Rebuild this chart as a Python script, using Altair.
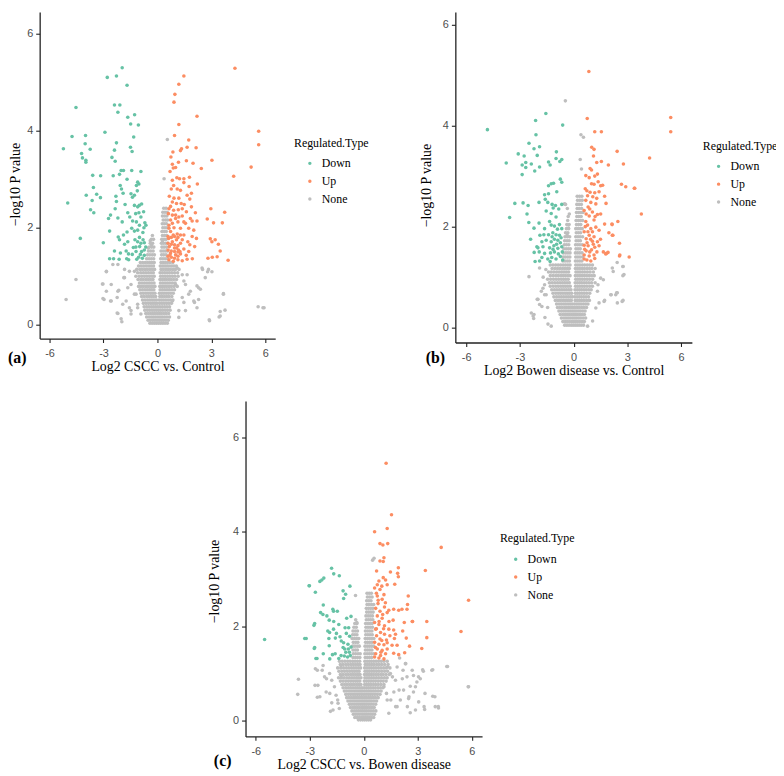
import altair as alt
import pandas as pd

TYPES = ["Down", "Up", "None"]
COLORS = ["#66C2A5", "#FC8D62", "#BEBEBE"]
X_TICKS = [-6, -3, 0, 3, 6]
Y_TICKS = [0, 2, 4, 6]
X_TITLES = ["Log2 CSCC vs. Control", "Log2 Bowen disease vs. Control", "Log2 CSCC vs. Bowen disease"]
Y_TITLE = "\u2212log10 P value"
TAGS = ["(a)", "(b)", "(c)"]
LEGEND_TITLE = "Regulated.Type"

# ---------------- panel (a): CSCC vs Control ----------------
a_down = [(-1.96,5.30),(-2.79,5.10),(-2.28,5.13),(-1.69,4.94),(-4.53,4.48),(-2.39,4.53),(-2.09,4.53),(-2.20,4.38),
          (-1.65,4.28),(-1.27,4.33),(-1.49,4.14),(-1.06,4.12),(-2.92,3.97),(-1.32,3.87),(-4.75,3.88),(-4.00,3.90),
          (-2.28,3.75),(-4.02,3.73),(-3.74,3.62),(-5.23,3.63),(-4.22,3.53),(-4.17,3.44),(-3.98,3.39),(-3.98,3.35),
          (-2.39,3.60),(-2.53,3.45),(-2.35,3.37),(-1.50,3.66),(-1.41,3.57),(-2.02,3.18),(-1.89,3.18),(-1.43,3.18),
          (-0.92,3.16),(-3.60,3.08),(-3.16,3.07),(-2.46,3.07),(-2.11,3.10),(-1.69,3.00),(-1.10,2.94),(-1.03,2.90),
          (-1.17,2.87),(-2.07,2.87),(-2.00,2.80),(-3.56,2.83),(-1.91,2.71),(-3.38,2.69),(-3.96,2.67),(-3.17,2.62),
          (-3.63,2.56),(-2.31,2.65),(-1.47,2.70),(-1.39,2.63),(-1.12,2.76),(-1.28,2.67),(-4.99,2.51),(-2.28,2.54),
          (-1.80,2.48),(-1.28,2.46),(-1.01,2.46),(-0.88,2.49),(-1.10,2.43),(-3.72,2.37),(-3.54,2.31),(-2.35,2.39),
          (-1.65,2.31),(-2.20,2.20),(-1.96,2.12),(-2.61,2.26),(-2.72,2.19),(-1.54,2.22),(-1.21,2.29),(-1.03,2.31),
          (-0.77,2.33),(-0.92,2.22),(-1.38,2.14),(-1.17,2.12),(-0.70,2.10),(-0.64,2.05),(-1.43,1.99),(-1.28,1.93),
          (-1.10,1.95),(-0.81,1.90),(-2.66,1.93),(-1.69,1.91),(-2.18,1.81),(-1.89,1.85),(-4.29,1.78),(-3.01,1.69),
          (-2.11,1.75),(-1.83,1.66),(-1.65,1.71),(-1.10,1.71),(-0.92,1.68),(-0.73,1.69),(-0.99,1.61),(-1.34,1.59),
          (-1.19,1.51),(-0.88,1.51),(-0.73,1.54),(-2.39,1.52),(-2.06,1.48),(-1.74,1.52),(-1.61,1.46),(-2.66,1.36),
          (-2.44,1.36),(-2.13,1.35),(-1.71,1.36),(-1.60,1.34),(-1.05,1.39),(-0.84,1.37),(-0.73,1.43),(-1.00,1.80),
          (-0.80,1.75),(-1.25,1.75),(-0.95,1.45),(-1.15,1.35),(-0.65,1.60),(-1.40,1.45),(-0.75,2.00),(-1.00,2.05),
          (-1.20,1.60)]
a_up = [(4.31,5.29),(1.47,5.13),(1.19,4.96),(0.97,4.75),(0.92,4.59),(2.20,4.30),(1.19,4.13),(5.63,3.99),(5.63,3.71),
        (0.95,3.90),(1.74,3.81),(1.34,3.63),(1.28,3.59),(1.65,3.66),(2.15,3.65),(0.86,3.56),(0.75,3.46),(1.17,3.35),
        (1.61,3.38),(1.98,3.33),(3.03,3.39),(2.44,3.22),(5.21,3.25),(4.24,3.06),(0.83,3.31),(0.88,3.23),(1.01,3.24),
        (0.70,3.16),(1.08,3.03),(1.23,3.01),(1.47,3.01),(1.78,3.04),(0.83,2.98),(0.90,2.87),(1.47,2.93),(2.22,2.90),
        (1.76,2.85),(0.77,2.80),(1.10,2.80),(1.28,2.77),(1.89,2.71),(1.65,2.67),(0.66,2.65),(0.92,2.61),(1.19,2.61),
        (1.80,2.59),(0.83,2.53),(1.06,2.50),(1.32,2.50),(1.49,2.48),(0.73,2.44),(1.89,2.43),(2.11,2.31),(2.97,2.39),
        (3.74,2.32),(0.90,2.36),(1.16,2.37),(1.61,2.33),(0.61,2.29),(1.01,2.26),(1.38,2.24),(1.83,2.19),(1.93,2.14),
        (2.20,2.14),(2.77,2.18),(3.12,2.10),(3.61,2.10),(0.73,2.16),(1.14,2.12),(1.56,2.09),(0.64,2.05),(0.92,2.00),
        (1.28,1.99),(1.74,1.99),(2.02,1.95),(0.73,1.92),(1.10,1.87),(1.47,1.85),(1.93,1.82),(2.17,1.78),(2.94,1.77),
        (3.21,1.75),(0.62,1.78),(0.83,1.71),(1.06,1.75),(1.28,1.68),(1.69,1.71),(1.80,1.65),(3.39,1.66),(3.03,1.71),
        (2.07,1.61),(0.66,1.61),(0.95,1.58),(1.17,1.54),(1.47,1.56),(3.49,1.52),(1.74,1.51),(0.73,1.48),(1.01,1.44),
        (1.28,1.46),(1.60,1.43),(1.94,1.36),(2.81,1.37),(3.05,1.39),(3.32,1.40),(3.93,1.33),(0.64,1.34),(0.88,1.31),
        (1.14,1.34),(1.38,1.32),(1.65,1.35),(0.59,1.82),(0.77,1.80),(0.95,1.82),(1.14,1.80),(0.59,1.68),(0.77,1.66),
        (0.95,1.65),(1.14,1.63),(0.59,1.54),(0.77,1.52),(0.95,1.51),(1.14,1.50),(0.59,1.41),(0.77,1.39),(0.95,1.37),
        (1.14,1.41),(1.25,1.51),(0.70,1.44),(1.06,1.58),(0.88,1.85),(0.64,1.99),(0.83,2.09),(1.01,2.19),(0.83,2.26),
        (1.19,2.22),(0.64,2.39),(1.38,2.39),(1.47,2.12),(1.28,1.85),(1.38,1.75)]
a_none = [(0.55,3.82),(0.37,3.01),(-0.40,1.73),(-0.33,1.65),(0.28,1.73),(-0.51,1.58),(-4.53,0.93),(-5.08,0.52),
          (-3.03,0.84),(-2.84,1.10),(-2.48,1.24),(-2.24,0.24),(-1.98,0.06),(-2.97,0.52),(-2.57,0.49),(-2.84,0.69),
          (-2.20,0.69),(-1.83,0.97),(-1.56,1.10),(-1.47,0.83),(-1.28,0.63),(-1.10,0.42),(-0.92,0.22),(-1.74,0.49),
          (-1.47,0.29),(2.48,1.17),(2.29,0.76),(2.02,0.49),(2.20,0.35),(2.66,0.97),(2.90,0.08),(3.49,0.18),(3.67,0.63),
          (3.76,0.30),(2.84,1.14),(5.60,0.37),(5.87,0.35),(1.56,0.83),(1.74,0.63),(1.47,0.46),(1.19,0.29),(1.10,1.17),
          (1.38,1.03),(1.01,0.83),(0.83,0.49),(-2.84,1.09),(-3.06,0.84),(-3.03,0.54),(-2.61,0.49),(-2.24,0.56),
          (-2.20,0.23),(-2.02,0.12),(-2.15,0.71),(-1.87,0.97),(-1.83,1.14),(-1.65,0.76),(-1.56,0.35),(-1.47,0.22),
          (-1.28,1.10),(-1.19,0.63),(-1.10,0.35),(-1.93,0.42),(-2.20,1.24),(-2.57,0.83),(2.51,1.14),(3.03,1.09),
          (2.79,1.09),(2.20,0.80),(2.39,0.73),(2.29,0.52),(1.83,0.69),(2.06,0.46),(3.67,0.64),(3.49,0.27),(3.43,0.16),
          (2.88,0.10),(5.93,0.35),(1.47,0.90),(1.65,1.03),(1.38,0.56),(1.56,0.29),(1.19,0.15)]
a_none_rows = [
    (2.40, [0.35, 0.48]), (2.32, [0.30, 0.42, 0.54]), (2.24, [0.28, 0.40, 0.52]), (2.16, [0.32, 0.45, 0.56]),
    (2.08, [0.27, 0.38, 0.50]), (2.00, [0.30, 0.42, 0.54]), (1.92, [0.25, 0.37, 0.49]),
    (1.84, [-0.28, 0.28, 0.40, 0.52]), (1.76, [-0.34, -0.22, 0.24, 0.36, 0.48]),
    (1.68, [-0.40, -0.27, 0.22, 0.33, 0.45, 0.56]), (1.60, [-0.45, -0.32, -0.20, 0.25, 0.37, 0.50]),
    (1.52, [-0.50, -0.37, -0.24, 0.20, 0.32, 0.44, 0.56]), (1.44, [-0.55, -0.42, -0.29, -0.17, 0.23, 0.35, 0.48]),
    (1.36, [-0.60, -0.47, -0.34, -0.21, 0.18, 0.30, 0.42, 0.54]),
    (1.28, [-0.95, -0.82, -0.68, -0.55, -0.42, -0.30, -0.18, 0.20, 0.32, 0.44, 0.56, 0.70, 0.85]),
    (1.21, [-1.05, -0.90, -0.76, -0.62, -0.48, -0.35, -0.22, 0.16, 0.28, 0.40, 0.52, 0.64, 0.78, 0.92, 1.05]),
    (1.14, [-1.15, -0.98, -0.84, -0.70, -0.56, -0.42, -0.28, -0.16, 0.20, 0.33, 0.46, 0.59, 0.72, 0.86, 1.00, 1.20]),
    (1.07, [-1.10, -0.93, -0.78, -0.64, -0.50, -0.36, -0.23, 0.15, 0.27, 0.40, 0.53, 0.66, 0.80, 0.95, 1.12]),
    (1.00, [-1.20, -1.02, -0.87, -0.72, -0.58, -0.44, -0.30, -0.18, 0.18, 0.31, 0.44, 0.57, 0.70, 0.84, 0.98, 1.15]),
    (0.93, [-1.08, -0.93, -0.79, -0.65, -0.51, -0.38, -0.25, 0.14, 0.26, 0.38, 0.50, 0.63, 0.76, 0.90, 1.06]),
    (0.86, [-1.00, -0.86, -0.72, -0.58, -0.45, -0.32, -0.19, 0.17, 0.30, 0.43, 0.56, 0.69, 0.83, 0.98]),
    (0.79, [-1.05, -0.92, -0.78, -0.64, -0.51, -0.38, -0.26, -0.14, 0.13, 0.25, 0.37, 0.50, 0.63, 0.77, 0.92, 1.10]),
    (0.72, [-0.98, -0.84, -0.70, -0.57, -0.44, -0.32, -0.20, 0.15, 0.28, 0.41, 0.54, 0.67, 0.81, 0.95]),
    (0.65, [-0.92, -0.78, -0.64, -0.51, -0.38, -0.26, -0.14, 0.11, 0.23, 0.35, 0.48, 0.61, 0.74, 0.88]),
    (0.58, [-0.88, -0.74, -0.60, -0.47, -0.34, -0.22, -0.10, 0.13, 0.26, 0.39, 0.52, 0.65, 0.80]),
    (0.51, [-0.83, -0.69, -0.55, -0.42, -0.30, -0.18, -0.06, 0.09, 0.21, 0.33, 0.46, 0.59, 0.72, 0.86]),
    (0.44, [-0.78, -0.64, -0.50, -0.37, -0.25, -0.13, -0.02, 0.12, 0.25, 0.38, 0.51, 0.64, 0.78]),
    (0.37, [-0.74, -0.60, -0.47, -0.34, -0.22, -0.10, 0.02, 0.14, 0.27, 0.40, 0.53, 0.67]),
    (0.30, [-0.70, -0.56, -0.43, -0.30, -0.18, -0.06, 0.06, 0.18, 0.30, 0.43, 0.56, 0.70]),
    (0.23, [-0.65, -0.51, -0.38, -0.26, -0.14, -0.02, 0.10, 0.22, 0.35, 0.48, 0.62]),
    (0.16, [-0.60, -0.46, -0.33, -0.21, -0.09, 0.03, 0.15, 0.27, 0.40, 0.53, 0.67]),
    (0.09, [-0.52, -0.39, -0.26, -0.14, -0.02, 0.10, 0.22, 0.34, 0.47, 0.60]),
    (0.03, [-0.42, -0.30, -0.18, -0.06, 0.06, 0.18, 0.30, 0.42, 0.55]),
]

# ---------------- panel (b): Bowen disease vs Control ----------------
b_down = [(-4.81,3.92),(-1.55,4.24),(-2.12,4.10),(-0.61,4.01),(-2.10,3.82),(-2.49,3.65),(-1.90,3.58),(-2.21,3.54),
          (-3.09,3.44),(-2.76,3.40),(-2.03,3.41),(-0.96,3.48),(-3.76,3.26),(-2.87,3.22),(-2.67,3.27),(-2.67,3.17),
          (-2.36,3.24),(-2.17,3.10),(-1.90,3.18),(-1.40,3.28),(-1.31,3.22),(-0.98,3.35),(-0.77,3.29),(-0.66,3.33),
          (-2.87,3.03),(-1.40,2.81),(-1.25,2.85),(-1.12,2.86),(-0.74,2.94),(-0.66,2.88),(-1.62,2.63),(-1.40,2.65),
          (-0.94,2.69),(-1.58,2.54),(-1.44,2.48),(-1.20,2.44),(-3.28,2.46),(-2.82,2.47),(-2.54,2.42),(-1.93,2.48),
          (-1.01,2.42),(-0.66,2.44),(-3.57,2.18),(-2.60,2.25),(-1.14,2.37),(-0.83,2.35),(-1.53,2.31),(-1.25,2.26),
          (-0.98,2.19),(-2.50,2.08),(-2.21,1.97),(-1.93,2.07),(-1.62,1.96),(-1.34,2.10),(-1.25,2.03),(-1.07,2.01),
          (-0.79,2.04),(-0.66,1.96),(-1.88,1.83),(-1.66,1.84),(-1.40,1.84),(-1.16,1.88),(-0.98,1.84),(-0.79,1.83),
          (-1.77,1.70),(-1.53,1.73),(-1.25,1.70),(-1.07,1.75),(-0.88,1.73),(-0.74,1.68),(-1.99,1.58),(-1.71,1.60),
          (-1.34,1.58),(-1.10,1.62),(-0.88,1.57),(-0.66,1.60),(-1.92,1.50),(-1.62,1.47),(-1.29,1.48),(-1.07,1.50),
          (-0.85,1.46),(-0.63,1.50),(-2.15,1.31),(-1.77,1.39),(-1.44,1.36),(-1.22,1.39),(-0.98,1.36),(-0.74,1.41),
          (-1.31,1.31),(-0.61,1.34),(-2.20,1.49),(-2.05,1.60),(-1.90,1.32),(-2.40,1.75),(-0.90,1.95),(-1.15,1.55),
          (-0.95,1.65),(-1.20,1.80),(-0.70,1.78)]
b_up = [(0.85,5.07),(0.76,4.14),(5.42,4.16),(5.42,3.88),(1.18,3.88),(1.55,3.88),(1.01,3.57),(1.14,3.53),(2.43,3.49),
        (4.24,3.36),(1.11,3.40),(1.29,3.27),(1.55,3.29),(1.94,3.22),(2.78,3.24),(0.92,3.15),(1.00,3.12),(0.68,3.01),
        (0.87,2.97),(1.18,3.00),(1.33,3.04),(1.37,2.89),(1.14,2.84),(1.51,2.81),(1.62,2.82),(2.67,2.84),(2.91,2.79),
        (3.39,2.76),(0.74,2.71),(0.92,2.68),(1.18,2.67),(1.42,2.69),(0.78,2.61),(1.07,2.59),(1.29,2.56),(1.73,2.60),
        (0.68,2.52),(0.96,2.48),(1.24,2.45),(1.81,2.46),(0.81,2.39),(0.59,2.32),(1.05,2.29),(1.33,2.24),(1.51,2.25),
        (3.78,2.25),(0.87,2.21),(0.68,2.10),(1.14,2.13),(1.73,2.05),(2.14,2.05),(2.47,2.10),(0.78,2.03),(0.96,1.96),
        (1.24,1.99),(1.42,1.93),(1.97,1.88),(2.16,1.83),(0.59,1.90),(0.87,1.83),(1.14,1.80),(0.70,1.76),(1.05,1.71),
        (1.33,1.70),(2.56,1.67),(0.59,1.63),(0.81,1.62),(1.18,1.59),(1.42,1.62),(0.70,1.52),(1.00,1.54),(1.66,1.50),
        (1.83,1.47),(1.92,1.49),(0.59,1.44),(0.87,1.42),(1.14,1.44),(2.56,1.42),(3.10,1.40),(0.74,1.34),(0.96,1.32),
        (0.59,1.36),(1.18,1.37),(0.65,2.00),(0.80,1.90),(0.95,1.75),(0.62,1.55),(0.90,1.50),(1.10,1.65),(0.75,1.68),
        (1.05,1.90),(0.70,2.25),(0.90,2.35),(1.20,2.20),(0.65,2.75),(1.00,2.85),(3.41,2.76),(2.58,1.44),(2.15,2.04),
        (2.19,1.83),(1.79,1.46),(1.30,1.50),(1.50,1.75)]
b_none = [(-0.46,4.49),(0.41,3.82),(0.55,3.77),(0.37,3.33),(0.44,3.14),(-0.51,2.45),(-0.24,2.25),(-0.29,1.97),
          (-0.36,1.83),(-2.49,1.01),(-1.90,1.18),(-1.80,0.72),(-2.36,0.29),(-2.26,0.23),(-1.43,0.07),(-1.25,0.03),
          (-1.99,0.56),(-1.62,0.65),(-1.71,0.78),(-1.90,0.46),(2.16,1.18),(2.75,1.21),(2.81,1.05),(2.71,0.52),
          (2.44,0.69),(2.07,0.65),(1.70,0.52),(1.33,0.72),(1.51,0.98),(1.06,0.13),(0.78,0.03),(2.44,0.49),(2.35,0.65),
          (-2.21,0.26),(-2.23,0.18),(-2.03,0.56),(-1.77,0.42),(-1.62,0.85),(-1.53,0.65),(2.43,1.29),(2.76,1.21),
          (2.21,1.11),(2.75,1.03),(2.10,0.65),(2.40,0.69),(1.73,0.54),(2.76,0.54),(1.36,0.85),(1.42,0.49),(1.24,0.39),
          (1.66,0.95),(-1.55,1.15),(-1.70,1.00),(-1.45,0.40),(-1.60,0.20)]
b_none_rows = [
    (2.60, [0.20, 0.33, 0.46]), (2.52, [0.22, 0.35, 0.48]), (2.44, [-0.45, 0.18, 0.30, 0.43]),
    (2.36, [-0.35, 0.20, 0.32, 0.45]), (2.28, [0.16, 0.28, 0.40, 0.52]), (2.20, [-0.30, 0.18, 0.30, 0.42]),
    (2.12, [-0.33, 0.14, 0.26, 0.38, 0.50]), (2.04, [-0.38, -0.25, 0.16, 0.28, 0.40]),
    (1.96, [-0.40, -0.28, 0.12, 0.24, 0.36, 0.48]), (1.88, [-0.45, -0.32, 0.15, 0.27, 0.39]),
    (1.80, [-0.48, -0.35, -0.22, 0.12, 0.24, 0.36, 0.50]), (1.72, [-0.50, -0.37, -0.25, 0.14, 0.26, 0.38]),
    (1.64, [-0.52, -0.40, -0.27, 0.11, 0.23, 0.35, 0.48]), (1.56, [-0.55, -0.42, -0.30, -0.18, 0.13, 0.25, 0.37]),
    (1.48, [-0.57, -0.44, -0.32, -0.20, 0.10, 0.22, 0.34, 0.47]),
    (1.40, [-0.58, -0.46, -0.33, -0.21, 0.12, 0.24, 0.36, 0.50]),
    (1.32, [-0.60, -0.48, -0.35, -0.23, 0.10, 0.22, 0.34, 0.46]),
    (1.24, [-1.30, -1.15, -1.00, -0.86, -0.72, -0.58, -0.45, -0.32, -0.20, 0.12, 0.24, 0.36, 0.49, 0.62, 0.76, 0.90, 1.05]),
    (1.17, [-1.20, -1.05, -0.90, -0.76, -0.62, -0.49, -0.36, -0.24, 0.10, 0.22, 0.34, 0.47, 0.60, 0.74, 0.88, 1.02, 1.20]),
    (1.10, [-1.40, -1.25, -1.10, -0.95, -0.81, -0.67, -0.54, -0.41, -0.28, 0.13, 0.25, 0.37, 0.50, 0.63, 0.77, 0.92, 1.10]),
    (1.03, [-1.30, -1.15, -1.00, -0.86, -0.72, -0.59, -0.46, -0.33, -0.20, 0.10, 0.22, 0.34, 0.46, 0.59, 0.72, 0.86, 1.00, 1.15]),
    (0.96, [-1.45, -1.28, -1.12, -0.97, -0.83, -0.69, -0.56, -0.43, -0.30, 0.12, 0.24, 0.36, 0.49, 0.62, 0.76, 0.90, 1.06]),
    (0.89, [-1.35, -1.20, -1.05, -0.90, -0.76, -0.63, -0.50, -0.37, -0.24, 0.09, 0.21, 0.33, 0.45, 0.58, 0.71, 0.85, 1.00, 1.20]),
    (0.82, [-1.30, -1.14, -0.99, -0.85, -0.71, -0.58, -0.45, -0.32, -0.19, 0.11, 0.23, 0.35, 0.48, 0.61, 0.75, 0.90, 1.05]),
    (0.75, [-1.22, -1.07, -0.93, -0.79, -0.66, -0.53, -0.40, -0.27, -0.15, 0.08, 0.20, 0.32, 0.44, 0.57, 0.70, 0.84, 0.98]),
    (0.68, [-1.15, -1.00, -0.86, -0.73, -0.60, -0.47, -0.35, -0.23, -0.11, 0.10, 0.22, 0.34, 0.47, 0.60, 0.74, 0.90]),
    (0.61, [-1.10, -0.95, -0.81, -0.68, -0.55, -0.42, -0.30, -0.18, -0.07, 0.07, 0.19, 0.31, 0.43, 0.56, 0.69, 0.83]),
    (0.54, [-1.02, -0.88, -0.74, -0.61, -0.48, -0.36, -0.24, -0.13, 0.09, 0.21, 0.33, 0.46, 0.59, 0.73, 0.88]),
    (0.47, [-0.95, -0.81, -0.68, -0.55, -0.43, -0.31, -0.19, -0.08, 0.05, 0.17, 0.29, 0.41, 0.54, 0.67, 0.80]),
    (0.40, [-0.90, -0.76, -0.63, -0.50, -0.38, -0.26, -0.14, -0.03, 0.08, 0.20, 0.32, 0.45, 0.58, 0.72]),
    (0.33, [-0.82, -0.68, -0.55, -0.43, -0.31, -0.19, -0.08, 0.03, 0.14, 0.26, 0.38, 0.51, 0.64]),
    (0.26, [-0.75, -0.61, -0.48, -0.36, -0.24, -0.12, 0.00, 0.11, 0.22, 0.34, 0.46, 0.60]),
    (0.19, [-0.68, -0.54, -0.42, -0.30, -0.18, -0.06, 0.05, 0.16, 0.28, 0.40, 0.53, 0.67]),
    (0.12, [-0.60, -0.47, -0.35, -0.23, -0.11, 0.00, 0.11, 0.22, 0.34, 0.47, 0.60]),
    (0.05, [-0.50, -0.38, -0.26, -0.14, -0.03, 0.08, 0.19, 0.30, 0.42, 0.55]),
]

# ---------------- panel (c): CSCC vs Bowen disease ----------------
c_down = [(-1.79,3.23),(-1.67,3.11),(-1.36,3.07),(-2.44,2.95),(-2.33,2.98),(-2.22,3.02),(-3.04,2.86),(-0.77,2.85),
          (-2.69,2.72),(-1.15,2.75),(-1.01,2.68),(-1.12,2.59),(-2.25,2.45),(-1.72,2.36),(-1.68,2.32),(-1.47,2.32),
          (-2.40,2.29),(-2.27,2.25),(-2.05,2.22),(-1.92,2.13),(-1.67,2.10),(-1.39,2.04),(-2.73,2.06),(-2.77,2.02),
          (-0.95,2.17),(-0.71,2.21),(-2.00,1.90),(-1.90,1.87),(-1.68,1.94),(-1.52,1.85),(-1.04,1.97),(-0.84,1.97),
          (-0.97,1.85),(-5.51,1.72),(-3.28,1.74),(-3.20,1.74),(-1.94,1.74),(-1.58,1.75),(-1.32,1.78),(-1.25,1.69),
          (-0.79,1.79),(-1.12,1.65),(-0.88,1.62),(-1.92,1.59),(-2.73,1.55),(-1.06,1.52),(-0.86,1.52),(-0.71,1.56),
          (-2.25,1.42),(-1.74,1.40),(-1.59,1.42),(-1.26,1.38),(-1.08,1.37),(-0.90,1.35),(-2.60,1.32),(-1.89,1.31),
          (-1.39,1.32),(-0.75,1.38),(-3.02,2.86),(-2.75,1.53),(-2.66,1.32),(-1.00,1.45),(-0.80,1.45),(-1.15,1.55)]
c_up = [(1.24,5.45),(1.54,4.36),(1.30,4.07),(0.60,4.00),(0.90,3.75),(1.06,3.72),(1.33,3.75),(4.30,3.67),(1.12,3.45),
        (1.08,3.37),(0.90,3.38),(1.92,3.24),(1.88,3.12),(1.92,3.05),(3.42,3.18),(0.71,3.17),(1.48,3.15),(1.08,3.03),
        (1.21,2.98),(0.84,2.96),(1.30,2.88),(1.72,2.89),(0.75,2.88),(0.60,2.81),(0.90,2.78),(1.12,2.67),(2.47,2.64),
        (0.75,2.64),(1.02,2.57),(5.82,2.55),(2.43,2.46),(2.40,2.36),(0.79,2.48),(1.39,2.34),(1.66,2.36),(1.94,2.34),
        (2.12,2.36),(0.66,2.38),(0.90,2.32),(1.15,2.41),(1.30,2.29),(0.75,2.22),(1.02,2.17),(1.63,2.13),(2.25,2.08),
        (2.71,2.10),(3.50,2.10),(0.60,2.08),(0.84,2.04),(1.15,2.01),(1.39,1.94),(1.66,1.92),(1.76,1.83),(2.16,1.90),
        (5.40,1.89),(0.66,1.94),(0.93,1.87),(1.15,1.83),(0.71,1.80),(2.36,1.75),(3.50,1.76),(0.90,1.73),(1.26,1.71),
        (1.70,1.74),(0.60,1.66),(0.84,1.62),(1.12,1.61),(1.57,1.60),(1.85,1.60),(2.54,1.58),(0.75,1.52),(1.02,1.49),
        (1.30,1.52),(3.22,1.53),(0.66,1.42),(0.93,1.38),(1.21,1.42),(1.66,1.43),(1.94,1.40),(2.27,1.44),(0.60,1.35),
        (0.84,1.33),(1.12,1.31),(0.70,1.95),(0.85,2.10),(1.00,1.70),(0.65,1.55),(0.95,1.45),(1.05,2.25),(0.80,2.55),
        (1.20,2.50),(1.30,1.65),(1.10,1.95),(0.70,2.70),(1.00,2.85),(2.69,2.10),(1.45,1.80),(1.40,2.10)]
c_none = [(0.49,3.40),(-0.46,2.65),(-0.39,2.08),(-3.63,0.88),(-3.67,0.56),(-2.58,1.07),(-2.71,0.75),(-2.26,1.17),
          (-2.07,0.89),(-2.44,0.51),(-1.89,0.58),(-1.71,0.23),(-1.43,0.37),(-1.25,0.96),(4.61,1.15),(3.78,1.07),
          (3.27,1.08),(3.14,0.89),(2.87,0.72),(2.69,1.07),(2.33,1.21),(2.14,0.89),(1.96,0.65),(2.51,0.51),(3.05,0.40),
          (3.38,0.24),(3.83,0.52),(3.97,0.30),(4.15,0.27),(5.80,0.72),(1.77,0.30),(2.42,0.30),(2.87,0.23),(1.50,0.44),
          (1.59,0.93),(1.31,1.14),(1.26,0.58),(-2.69,1.10),(-2.55,0.75),(-2.58,0.50),(-2.31,1.07),(-2.18,0.93),
          (-2.09,0.61),(-1.90,1.00),(-1.78,0.86),(-1.63,0.72),(-1.78,0.38),(-1.54,0.54),(-1.85,0.20),(-1.36,0.26),
          (-1.45,0.44),(-1.26,1.17),(0.57,3.44),(1.99,1.33),(2.31,1.21),(1.85,1.14),(2.18,1.07),(1.48,1.00),(1.76,0.86),
          (2.40,0.93),(2.76,0.96),(3.04,0.93),(3.31,1.05),(3.83,1.08),(4.65,1.15),(2.95,0.82),(2.58,0.73),(2.21,0.65),
          (1.67,0.61),(2.03,0.44),(2.49,0.47),(2.76,0.61),(3.40,0.58),(3.95,0.51),(3.35,0.30),(4.14,0.30),(2.58,0.17),
          (1.85,0.30),(1.39,0.16),(5.82,0.72),(1.12,0.72),(1.30,0.44)]
c_none_rows = [
    (2.70, [0.18, 0.30, 0.42]), (2.62, [0.20, 0.33, 0.46]), (2.54, [0.16, 0.28, 0.40]),
    (2.46, [0.18, 0.30, 0.43, 0.55]), (2.38, [0.14, 0.26, 0.38, 0.50]), (2.30, [0.16, 0.28, 0.40, 0.52]),
    (2.22, [0.12, 0.24, 0.36, 0.48]), (2.14, [-0.45, 0.14, 0.26, 0.38, 0.50]),
    (2.06, [-0.50, -0.38, 0.10, 0.22, 0.34, 0.46]), (1.98, [-0.55, -0.42, 0.12, 0.24, 0.36, 0.48]),
    (1.90, [-0.60, -0.47, -0.35, 0.09, 0.21, 0.33, 0.45]), (1.82, [-0.62, -0.50, -0.38, 0.11, 0.23, 0.35, 0.47]),
    (1.74, [-0.65, -0.52, -0.40, -0.28, 0.08, 0.20, 0.32, 0.44, 0.56]),
    (1.66, [-0.58, -0.45, -0.33, 0.10, 0.22, 0.34, 0.46]),
    (1.58, [-0.62, -0.50, -0.37, -0.25, 0.07, 0.19, 0.31, 0.43, 0.55]),
    (1.50, [-0.60, -0.47, -0.35, 0.09, 0.21, 0.33, 0.45]),
    (1.42, [-0.58, -0.45, -0.32, -0.20, 0.06, 0.18, 0.30, 0.42, 0.54]),
    (1.34, [-0.60, -0.47, -0.35, -0.22, 0.08, 0.20, 0.32, 0.44]),
    (1.26, [-1.35, -1.20, -1.05, -0.90, -0.76, -0.62, -0.49, -0.36, -0.23, 0.06, 0.18, 0.30, 0.42, 0.55, 0.68, 0.82, 0.97, 1.12, 1.30]),
    (1.19, [-1.30, -1.15, -1.00, -0.86, -0.72, -0.59, -0.46, -0.33, -0.21, 0.08, 0.20, 0.32, 0.45, 0.58, 0.72, 0.86, 1.00, 1.16, 1.35]),
    (1.12, [-1.45, -1.28, -1.12, -0.97, -0.83, -0.69, -0.56, -0.43, -0.30, -0.18, 0.05, 0.17, 0.29, 0.41, 0.54, 0.67, 0.81, 0.95, 1.10, 1.25, 1.45]),
    (1.05, [-1.38, -1.22, -1.07, -0.92, -0.78, -0.64, -0.51, -0.38, -0.26, 0.07, 0.19, 0.31, 0.44, 0.57, 0.71, 0.85, 1.00, 1.16, 1.32]),
    (0.98, [-1.30, -1.15, -1.00, -0.86, -0.72, -0.59, -0.46, -0.33, -0.21, 0.04, 0.16, 0.28, 0.40, 0.53, 0.66, 0.80, 0.94, 1.08, 1.24, 1.42]),
    (0.91, [-1.40, -1.24, -1.09, -0.94, -0.80, -0.66, -0.53, -0.40, -0.28, -0.16, 0.06, 0.18, 0.30, 0.43, 0.56, 0.70, 0.84, 0.99, 1.15, 1.30]),
    (0.84, [-1.30, -1.15, -1.00, -0.86, -0.72, -0.59, -0.46, -0.34, -0.22, 0.03, 0.15, 0.27, 0.39, 0.52, 0.65, 0.79, 0.93, 1.08, 1.24]),
    (0.77, [-1.22, -1.07, -0.93, -0.79, -0.66, -0.53, -0.40, -0.28, -0.16, 0.05, 0.17, 0.29, 0.41, 0.54, 0.67, 0.81, 0.96, 1.12]),
    (0.70, [-1.15, -1.00, -0.86, -0.73, -0.60, -0.47, -0.35, -0.23, -0.11, 0.02, 0.14, 0.26, 0.38, 0.51, 0.64, 0.78, 0.92, 1.06]),
    (0.63, [-1.08, -0.94, -0.80, -0.67, -0.54, -0.42, -0.30, -0.18, -0.07, 0.05, 0.17, 0.29, 0.41, 0.54, 0.67, 0.81, 0.96]),
    (0.56, [-1.00, -0.86, -0.73, -0.60, -0.48, -0.36, -0.24, -0.12, 0.00, 0.12, 0.24, 0.36, 0.48, 0.61, 0.75, 0.90]),
    (0.49, [-0.95, -0.81, -0.68, -0.55, -0.43, -0.31, -0.19, -0.08, 0.04, 0.15, 0.27, 0.39, 0.52, 0.65, 0.80]),
    (0.42, [-0.88, -0.74, -0.61, -0.49, -0.37, -0.25, -0.13, -0.02, 0.09, 0.20, 0.32, 0.44, 0.57, 0.71]),
    (0.35, [-0.80, -0.67, -0.54, -0.42, -0.30, -0.18, -0.07, 0.04, 0.15, 0.27, 0.39, 0.52, 0.66]),
    (0.28, [-0.74, -0.60, -0.48, -0.36, -0.24, -0.12, -0.01, 0.10, 0.21, 0.33, 0.45, 0.58]),
    (0.21, [-0.66, -0.53, -0.41, -0.29, -0.17, -0.06, 0.05, 0.16, 0.28, 0.40, 0.53, 0.67]),
    (0.14, [-0.58, -0.46, -0.34, -0.22, -0.10, 0.01, 0.12, 0.23, 0.35, 0.47, 0.60]),
    (0.07, [-0.50, -0.38, -0.26, -0.14, -0.03, 0.08, 0.19, 0.30, 0.42, 0.55]),
    (0.02, [-0.30, -0.18, -0.06, 0.05, 0.16, 0.27, 0.38]),
]


def build_frame(down, up, none_pts, none_rows):
    rows = []
    for y, xs in none_rows:
        for x in xs:
            rows.append((x, y, "None"))
    for x, y in none_pts:
        rows.append((x, y, "None"))
    for x, y in down:
        rows.append((x, y, "Down"))
    for x, y in up:
        rows.append((x, y, "Up"))
    return pd.DataFrame(rows, columns=["log2fc", "logp", "regtype"])


FRAMES = [
    build_frame(a_down, a_up, a_none, a_none_rows),
    build_frame(b_down, b_up, b_none, b_none_rows),
    build_frame(c_down, c_up, c_none, c_none_rows),
]

# layout of each panel (pixel placement inside the single canvas)
W, H = 776, 766
PANELS = [
    dict(xr=[32, 270], yr=[330, 0], xd=[-6.55, 6.55], yd=[-0.286, 6.45], xoff=-436, yoff=-32,
         ytx=-24, yty=174, lx=289, ly=127, tx=0, ty=350),
    dict(xr=[452, 691], yr=[334, 0], xd=[-6.6, 6.6], yd=[-0.294, 6.25], xoff=-432, yoff=-452,
         ytx=-29, yty=175, lx=702, ly=130, tx=422, ty=350),
    dict(xr=[240, 479], yr=[732, 393], xd=[-6.57, 6.57], yd=[-0.33, 6.77], xoff=-34, yoff=-240,
         ytx=-31, yty=575, lx=497, ly=527, tx=208, ty=757),
]

AXIS_STYLE = dict(grid=False, domainColor="#222222", tickColor="#222222", tickSize=4, domainWidth=1.3,
                  tickWidth=1.1,
                  labelFont="Liberation Sans", labelFontSize=11, labelColor="#4D4D4D",
                  labelFlush=False, labelOverlap=False, labelBound=False, labelExpr="'' + datum.value",
                  titleFont="Liberation Serif", titleFontSize=14, titleFontWeight="normal", titleColor="black")

layers = []
for i, (df, p) in enumerate(zip(FRAMES, PANELS)):
    pts = alt.Chart(df).mark_circle(size=13, opacity=1).encode(
        x=alt.X("log2fc:Q",
                scale=alt.Scale(domain=p["xd"], range=p["xr"], nice=False, zero=False),
                axis=alt.Axis(orient="bottom", offset=p["xoff"], values=X_TICKS, title=X_TITLES[i],
                              labelPadding=5, titleBaseline="alphabetic", titleY=32, **AXIS_STYLE)),
        y=alt.Y("logp:Q",
                scale=alt.Scale(domain=p["yd"], range=p["yr"], nice=False, zero=False),
                axis=alt.Axis(orient="left", offset=p["yoff"], values=Y_TICKS, title=Y_TITLE,
                              labelPadding=3, titleX=p["ytx"], titleY=p["yty"], titleAngle=-90,
                              titleAlign="center", titleBaseline="middle", **AXIS_STYLE)),
        color=alt.Color("regtype:N", scale=alt.Scale(domain=TYPES, range=COLORS),
                        legend=alt.Legend(orient="none", legendX=p["lx"], legendY=p["ly"],
                                          title=LEGEND_TITLE, titleFont="Liberation Serif",
                                          titleFontSize=12, titleFontWeight="normal", titleColor="black",
                                          titleBaseline="top", titlePadding=8,
                                          labelFont="Liberation Serif", labelFontSize=12, labelColor="black",
                                          symbolType="circle", symbolSize=12, symbolStrokeWidth=0,
                                          symbolOffset=10, labelOffset=6, rowPadding=6, padding=0)),
    )
    tag = alt.Chart(pd.DataFrame({"tag": [TAGS[i]]})).mark_text(
        font="Liberation Serif", fontSize=16, fontWeight="bold", align="left", baseline="middle", color="black"
    ).encode(text="tag:N", x=alt.value(p["tx"]), y=alt.value(p["ty"]))
    layers += [pts, tag]

chart = alt.layer(*layers).resolve_scale(
    x="independent", y="independent", color="independent"
).resolve_axis(x="independent", y="independent").resolve_legend(color="independent").properties(
    width=W, height=H, autosize=alt.AutoSizeParams(type="none"), padding=0
).configure_view(stroke=None)

chart.save("out.html", embed_options={"renderer": "svg", "actions": False})
